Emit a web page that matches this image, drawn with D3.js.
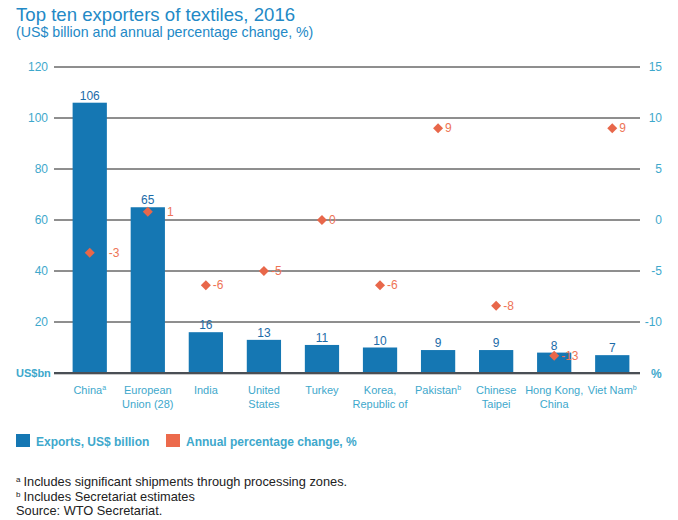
<!DOCTYPE html>
<html>
<head>
<meta charset="utf-8">
<script src="https://cdn.jsdelivr.net/npm/d3@7.9.0/dist/d3.min.js"></script>
<style>
  body { margin: 0; background: #fff; }
  svg { font-family: "Liberation Sans", Arial, sans-serif; }
</style>
</head>
<body>
<svg id="chart" width="678" height="520"></svg>
<script>
// Data
const countries = ["China", "European Union (28)", "India", "United States", "Turkey",
  "Korea, Republic of", "Pakistan", "Chinese Taipei", "Hong Kong, China", "Viet Nam"];
const labelLines = [["China"], ["European", "Union (28)"], ["India"], ["United", "States"], ["Turkey"],
  ["Korea,", "Republic of"], ["Pakistan"], ["Chinese", "Taipei"], ["Hong Kong,", "China"], ["Viet Nam"]];
const footMarks = ["a", "", "", "", "", "", "b", "", "", "b"];
const exportVals = [106, 65, 16, 13, 11, 10, 9, 9, 8, 7];
// marker positions; labels show them rounded
const pctChange = [-3.2, 0.8, -6.4, -5.0, 0, -6.4, 9.0, -8.4, -13.3, 9.0];
const leftTicks = [20, 40, 60, 80, 100, 120];
const rightTicks = [-10, -5, 0, 5, 10, 15];

const svg = d3.select("#chart");

const blue = "#1577b3";
const orange = "#e8674a";
const axisText = "#3ea8cc";

const plotLeft = 54, plotRight = 640, plotTop = 67, plotBottom = 373;

// Scales
const x = d3.scaleBand()
  .domain(countries)
  .range([61, 641])
  .paddingInner(0.41)
  .paddingOuter(0.2);

const y = d3.scaleLinear().domain([0, 120]).range([plotBottom, plotTop]);
const y2 = d3.scaleLinear().domain([-15, 15]).range([plotBottom, plotTop]);

// Title
svg.append("text")
  .attr("x", 16).attr("y", 21)
  .attr("fill", "#2389c6")
  .attr("font-size", 18.6)
  .text("Top ten exporters of textiles, 2016");
svg.append("text")
  .attr("x", 16).attr("y", 37)
  .attr("fill", "#2389c6")
  .attr("font-size", 14.2)
  .text("(US$ billion and annual percentage change, %)");

// Grid lines (left scale)
svg.append("g")
  .selectAll("line")
  .data(leftTicks)
  .join("line")
  .attr("x1", plotLeft).attr("x2", plotRight)
  .attr("y1", d => y(d)).attr("y2", d => y(d))
  .attr("stroke", "#1e1e1e")
  .attr("stroke-width", 1);

// Left axis
const leftAxis = svg.append("g")
  .attr("transform", `translate(${plotLeft - 6},0)`)
  .call(d3.axisLeft(y).tickValues(leftTicks).tickSize(0).tickPadding(0));
leftAxis.select(".domain").remove();
leftAxis.selectAll("text")
  .attr("fill", axisText)
  .attr("font-size", 12)
  .attr("font-family", "Liberation Sans, Arial, sans-serif");

// Right axis (plain hyphen for negatives, as in the source)
const rightAxis = svg.append("g")
  .attr("transform", `translate(662,0)`)
  .call(d3.axisLeft(y2).tickValues(rightTicks).tickSize(0).tickPadding(0).tickFormat(d => String(d)));
rightAxis.select(".domain").remove();
rightAxis.selectAll("text")
  .attr("fill", axisText)
  .attr("font-size", 12)
  .attr("font-family", "Liberation Sans, Arial, sans-serif");

// Axis unit labels
svg.append("text")
  .attr("x", 16).attr("y", plotBottom + 4)
  .attr("fill", axisText)
  .attr("font-size", 11)
  .attr("font-weight", "bold")
  .text("US$bn");
svg.append("text")
  .attr("x", 651).attr("y", plotBottom + 5)
  .attr("fill", axisText)
  .attr("font-size", 12)
  .attr("font-weight", "bold")
  .text("%");

// Bars
svg.append("g")
  .selectAll("rect")
  .data(exportVals)
  .join("rect")
  .attr("x", (d, i) => x(countries[i]))
  .attr("width", x.bandwidth())
  .attr("y", d => y(d))
  .attr("height", d => y(0) - y(d))
  .attr("fill", blue);

// Baseline
svg.append("line")
  .attr("x1", plotLeft).attr("x2", plotRight)
  .attr("y1", plotBottom + 0.5).attr("y2", plotBottom + 0.5)
  .attr("stroke", "#c8c8c8").attr("stroke-width", 3);
svg.append("line")
  .attr("x1", plotLeft).attr("x2", plotRight)
  .attr("y1", plotBottom).attr("y2", plotBottom)
  .attr("stroke", "#4a4f55").attr("stroke-width", 2);

// Bar value labels
svg.append("g")
  .selectAll("text")
  .data(exportVals)
  .join("text")
  .attr("x", (d, i) => x(countries[i]) + x.bandwidth() / 2)
  .attr("y", d => y(d) - 3)
  .attr("text-anchor", "middle")
  .attr("fill", "#1c6ba8")
  .attr("font-size", 12)
  .text(d => d);

// Category labels
const cat = svg.append("g")
  .selectAll("text")
  .data(countries)
  .join("text")
  .attr("x", d => x(d) + x.bandwidth() / 2)
  .attr("y", 394)
  .attr("text-anchor", "middle")
  .attr("fill", axisText)
  .attr("font-size", 11);
cat.each(function(d, i) {
  const t = d3.select(this);
  labelLines[i].forEach((line, j) => {
    const ts = t.append("tspan")
      .attr("x", x(d) + x.bandwidth() / 2)
      .attr("dy", j === 0 ? 0 : 14)
      .text(line);
    if (j === labelLines[i].length - 1 && footMarks[i]) {
      ts.append("tspan")
        .attr("font-size", 7)
        .attr("dy", -4)
        .text(footMarks[i]);
    }
  });
});

// Percentage change diamonds
const diamond = d3.symbol().type(d3.symbolDiamond2).size(64);
svg.append("g")
  .selectAll("path")
  .data(pctChange)
  .join("path")
  .attr("d", diamond)
  .attr("transform", (d, i) => `translate(${x(countries[i]) + x.bandwidth() / 2},${y2(d)})`)
  .attr("fill", orange);

// Diamond labels: pushed past the bar edge when the marker sits well inside a bar
svg.append("g")
  .selectAll("text")
  .data(pctChange)
  .join("text")
  .attr("x", (d, i) => {
    const cx = x(countries[i]) + x.bandwidth() / 2;
    const inside = y2(d) - y(exportVals[i]) > 4;
    return inside ? x(countries[i]) + x.bandwidth() + 2 : cx + 7;
  })
  .attr("y", d => y2(d) + 4)
  .attr("fill", "#ee7455")
  .attr("font-size", 12)
  .text(d => String(Math.round(d)));

// Legend
const legend = svg.append("g").attr("transform", "translate(16,434)");
legend.append("rect").attr("width", 14).attr("height", 13).attr("fill", blue);
legend.append("text").attr("x", 20).attr("y", 12)
  .attr("fill", axisText).attr("font-size", 12).attr("font-weight", "bold")
  .text("Exports, US$ billion");
legend.append("rect").attr("x", 150).attr("width", 14).attr("height", 13).attr("fill", "#ec6a4c");
legend.append("text").attr("x", 170).attr("y", 12)
  .attr("fill", axisText).attr("font-size", 12).attr("font-weight", "bold")
  .text("Annual percentage change, %");

// Footnotes
const notes = svg.append("g").attr("fill", "#222").attr("font-size", 12.8);
const n1 = notes.append("text").attr("x", 16).attr("y", 486);
n1.append("tspan").attr("font-size", 8).attr("dy", -4).text("a");
n1.append("tspan").attr("dx", 3).attr("dy", 4).text("Includes significant shipments through processing zones.");
const n2 = notes.append("text").attr("x", 16).attr("y", 501);
n2.append("tspan").attr("font-size", 8).attr("dy", -4).text("b");
n2.append("tspan").attr("dx", 3).attr("dy", 4).text("Includes Secretariat estimates");
notes.append("text").attr("x", 16).attr("y", 515).text("Source: WTO Secretariat.");
</script>
</body>
</html>
